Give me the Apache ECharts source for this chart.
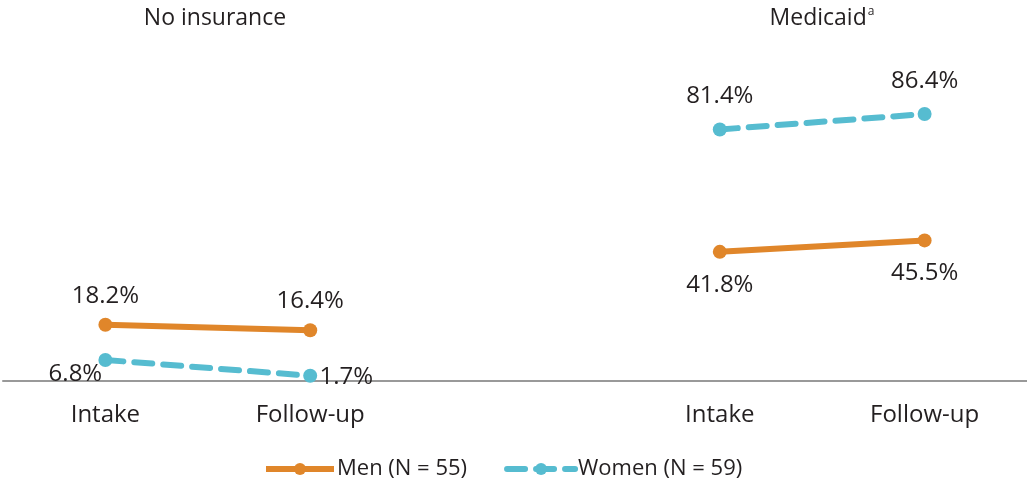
<!DOCTYPE html>
<html><head><meta charset="utf-8">
<script src="https://cdn.jsdelivr.net/npm/echarts@6/dist/echarts.min.js"></script>
<style>html,body{margin:0;padding:0;background:#fff}#c{width:1027px;height:487px}</style>
</head><body><div id="c"></div>
<script>
const categories = ['Intake', 'Follow-up', '', 'Intake', 'Follow-up'];
const menValues = [18.2, 16.4, null, 41.8, 45.5];
const womenValues = [6.8, 1.7, null, 81.4, 86.4];
const panelTitles = ['No insurance', 'Medicaid'];
const seriesNames = ['Men (N = 55)', 'Women (N = 59)'];

const FONT = '"Open Sans", "Noto Sans", sans-serif';
const TXT = '#231F20';
const ORANGE = '#E0862A';
const TEAL = '#56BCD0';

const menLabelPos = [
  {position: 'top', distance: 10},
  {position: 'top', distance: 10},
  null,
  {position: 'bottom', distance: 14},
  {position: 'bottom', distance: 14}
];
const womenLabelPos = [
  {position: 'inside', offset: [-30, 14]},
  {position: 'inside', offset: [36, 1]},
  null,
  {position: 'top', distance: 14},
  {position: 'top', distance: 14}
];

function build(values, pos) {
  return values.map((v, i) => {
    if (v === null) return null;
    return {value: v, label: Object.assign({show: true}, pos[i])};
  });
}

const chart = echarts.init(document.getElementById('c'));
chart.setOption({
  animation: false,
  textStyle: {fontFamily: FONT},
  graphic: [
    {type: 'text', x: 215, y: 18,
     style: {text: panelTitles[0], fontFamily: FONT, fontSize: 23, fill: TXT, align: 'center', verticalAlign: 'middle'}},
    {type: 'text', x: 822, y: 18,
     style: {text: '{m|' + panelTitles[1] + '}{s|a}', fontFamily: FONT, fontSize: 23, fill: TXT, align: 'center', verticalAlign: 'middle',
       rich: {m: {fontFamily: FONT, fontSize: 23, fill: TXT},
              s: {fontFamily: FONT, fontSize: 12, fill: TXT, verticalAlign: 'top', padding: [0, 0, 12, 1]}}}}
  ],
  legend: {
    bottom: 2, left: 258,
    itemWidth: 68, itemHeight: 15, itemGap: 37,
    lineStyle: {width: 6},
    textStyle: {fontFamily: FONT, fontSize: 22, color: TXT, padding: [0, 0, 0, -2]},
    data: seriesNames
  },
  grid: {left: 3, right: 0, top: 72, bottom: 106},
  xAxis: {
    type: 'category', data: categories, boundaryGap: true,
    axisLine: {lineStyle: {color: '#999', width: 2}},
    axisTick: {show: false},
    axisLabel: {fontFamily: FONT, fontSize: 24, color: TXT, margin: 22, interval: 0}
  },
  yAxis: {type: 'value', min: 0, max: 100, show: false, splitLine: {show: false}},
  series: [
    {
      name: seriesNames[0], type: 'line', data: build(menValues, menLabelPos),
      connectNulls: false,
      symbol: 'circle', symbolSize: 14,
      itemStyle: {color: ORANGE},
      lineStyle: {color: ORANGE, width: 6},
      label: {fontFamily: FONT, fontSize: 24, color: TXT, formatter: p => p.value.toFixed(1) + '%'}
    },
    {
      name: seriesNames[1], type: 'line', data: build(womenValues, womenLabelPos),
      connectNulls: false,
      symbol: 'circle', symbolSize: 14,
      itemStyle: {color: TEAL},
      lineStyle: {color: TEAL, width: 6, type: [18, 11], cap: 'round'},
      label: {fontFamily: FONT, fontSize: 24, color: TXT, formatter: p => p.value.toFixed(1) + '%'}
    }
  ]
});
</script></body></html>
